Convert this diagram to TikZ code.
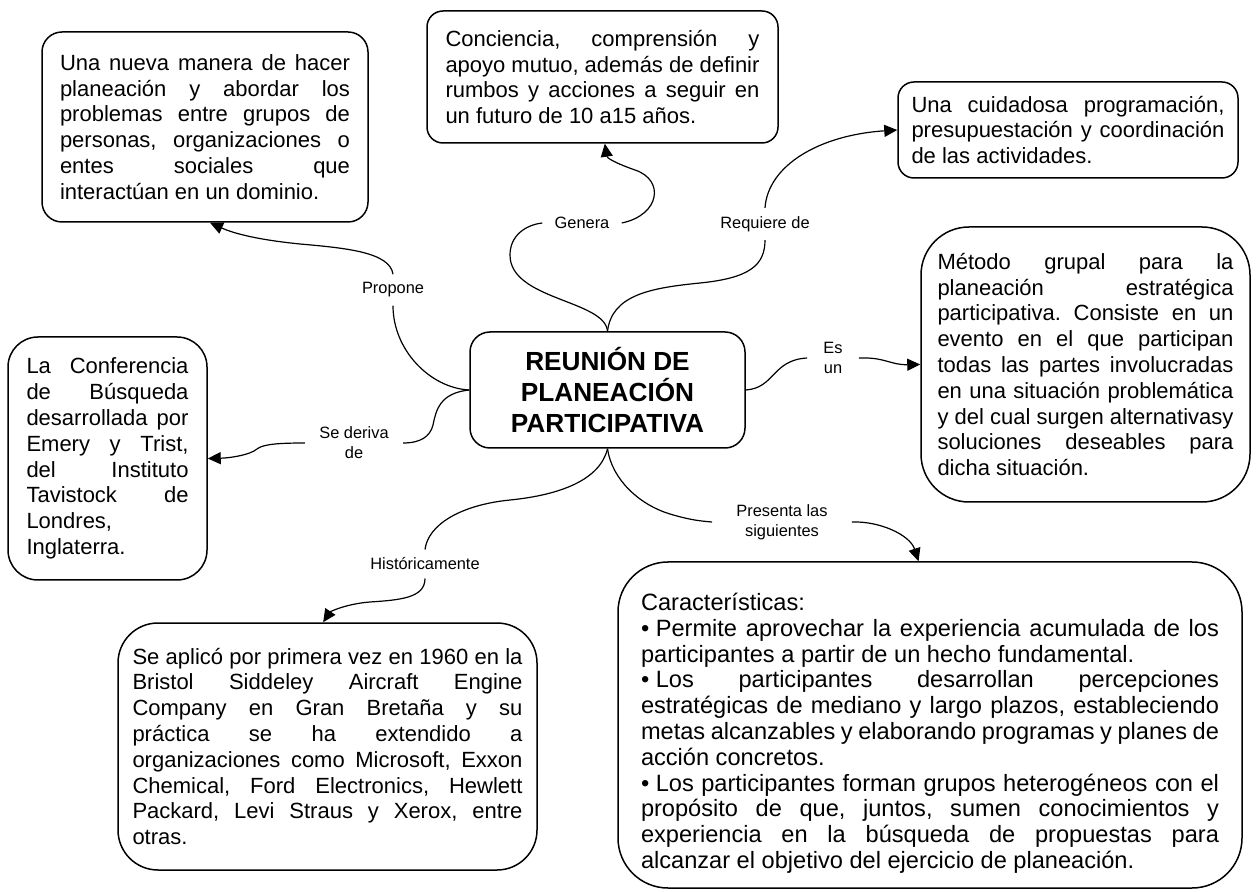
\documentclass[tikz,border=0pt]{standalone}
\usepackage{fontspec}
\setmainfont{Liberation Sans}
\usepackage{tikz}
\usetikzlibrary{arrows.meta}
\setlength{\parindent}{0pt}
\hyphenpenalty=10000
\tolerance=9999
\frenchspacing
\newcommand{\txtfont}{\fontsize{11}{12.9}\selectfont}
\newcommand{\bulfont}{\fontsize{11.8}{12.9}\selectfont}
\newcommand{\lblfont}{\fontsize{8.2}{10}\selectfont}
\newcommand{\ttlfont}{\fontsize{13.1}{15.5}\selectfont\bfseries}

\begin{document}
\begin{tikzpicture}[
  x=0.5pt,y=-0.5pt,
  box/.style={rectangle,draw=black,line width=0.75pt,inner sep=0pt,align=justify,font=\txtfont},
  tag/.style={inner xsep=3pt,inner ysep=4pt,align=center,font=\lblfont},
  link/.style={draw=black,line width=0.6pt},
  arrow/.style={link,-{Triangle[length=6.5pt,width=6pt]}}
]
\useasboundingbox (0,0) rectangle (1258,892);
\node[box,rounded corners=10pt,minimum width=137.5pt,minimum height=58pt,align=center,font=\ttlfont] (reunion) at (607.5,390)
  {REUNIÓN DE\\PLANEACIÓN\\PARTICIPATIVA};
\node[box,rounded corners=10pt,minimum width=163pt,minimum height=95pt,text width=145pt] (nueva) at (205,127)
  {Una nueva manera de hacer\linebreak planeación y abordar los\linebreak problemas entre grupos de\linebreak personas, organizaciones o\linebreak entes sociales que\linebreak interactúan en un dominio.};
\node[box,rounded corners=8pt,minimum width=175.5pt,minimum height=66pt,text width=157pt] (conciencia) at (602.5,77)
  {Conciencia, comprensión y\linebreak apoyo mutuo, además de definir\linebreak rumbos y acciones a seguir en\linebreak un futuro de 10 a15 años.};
\node[box,rounded corners=8pt,minimum width=170pt,minimum height=48pt,text width=156.5pt] (cuidadosa) at (1068,130)
  {Una cuidadosa programación,\linebreak presupuestación y coordinación\linebreak de las actividades.};
\node[box,rounded corners=24pt,minimum width=164.5pt,minimum height=137.5pt,text width=148pt] (metodo) at (1085.5,364.5)
  {Método grupal para la\linebreak planeación estratégica\linebreak participativa. Consiste en un\linebreak evento en el que participan\linebreak todas las partes involucradas\linebreak en una situación problemática\linebreak y del cual surgen alternativasy\linebreak soluciones deseables para\linebreak dicha situación.};
\node[box,rounded corners=15pt,minimum width=99.5pt,minimum height=121.5pt,text width=81pt] (conferencia) at (107.5,458.5)
  {La Conferencia\linebreak de Búsqueda\linebreak desarrollada por\linebreak Emery y Trist,\linebreak del Instituto\linebreak Tavistock de\linebreak Londres,\\ Inglaterra.};
\node[box,rounded corners=20pt,minimum width=209.5pt,minimum height=123.5pt,text width=195pt] (aplico) at (327.5,746.5)
  {Se aplicó por primera vez en 1960 en la\linebreak Bristol Siddeley Aircraft Engine\linebreak Company en Gran Bretaña y su\linebreak práctica se ha extendido a\linebreak organizaciones como Microsoft, Exxon\linebreak Chemical, Ford Electronics, Hewlett\linebreak Packard, Levi Straus y Xerox, entre\linebreak otras.};
\node[box,rounded corners=25pt,minimum width=312pt,minimum height=163pt,text width=289pt,font=\bulfont] (caracteristicas) at (930,725)
  {\rule{0pt}{17pt}Características:\\ \mbox{• Permite} aprovechar la experiencia acumulada de los\linebreak participantes a partir de un hecho fundamental.\\ \mbox{• Los} participantes desarrollan percepciones\linebreak estratégicas de mediano y largo plazos, estableciendo\linebreak metas alcanzables y elaborando programas y planes de\linebreak acción concretos.\\ \mbox{• Los} participantes forman grupos heterogéneos con el\linebreak propósito de que, juntos, sumen conocimientos y\linebreak experiencia en la búsqueda de propuestas para\linebreak alcanzar el objetivo del ejercicio de planeación.};
\node[tag] (propone) at (393,290) {Propone};
\node[tag,inner xsep=6pt] (genera) at (582,223) {Genera};
\node[tag] (requiere) at (765,224) {Requiere de};
\node[tag,inner xsep=8pt] (esun) at (833,358) {Es\\un};
\node[tag,inner xsep=7pt] (deriva) at (354,443) {Se deriva\\de};
\node[tag] (historica) at (425,564) {Históricamente};
\node[tag,inner xsep=12pt] (presenta) at (782,522) {Presenta las\\siguientes};
\draw[link] (reunion.west) .. controls (430,388) and (393,350) .. (propone.south);
\draw[arrow] (propone.north) .. controls (390,252) and (345,248) .. (300,244) .. controls (260,240) and (235,234) .. (nueva.273);
\draw[link] (reunion.north) .. controls (605,300) and (510,300) .. (510,255) .. controls (510,236) and (525,225) .. (genera.west);
\draw[arrow] (genera.east) .. controls (660,215) and (665,180) .. (635,170) .. controls (615,163) and (607,158) .. (conciencia.272);
\draw[link] (reunion.north) .. controls (612,295) and (650,288) .. (700,283) .. controls (750,278) and (765,265) .. (requiere.south);
\draw[arrow] (requiere.north) .. controls (768,165) and (820,135) .. (cuidadosa.west);
\draw[link] (reunion.east) .. controls (775,388) and (772,360) .. (esun.west);
\draw[arrow] (esun.east) .. controls (885,357) and (890,365) .. (metodo.west);
\draw[link] (reunion.west) .. controls (440,393) and (436,410) .. (433,425) .. controls (430,437) and (420,443) .. (deriva.east);
\draw[arrow] (deriva.west) .. controls (280,443) and (263,444) .. (257,449) .. controls (250,455) and (230,458) .. (conferencia.east);
\draw[link] (reunion.south) .. controls (600,480) and (560,495) .. (510,500) .. controls (460,505) and (428,525) .. (historica.north);
\draw[arrow] (historica.south) .. controls (425,598) and (400,600) .. (370,602) .. controls (345,604) and (330,612) .. (aplico.92);
\draw[link] (reunion.south) .. controls (612,480) and (640,505) .. (670,514) .. controls (690,520) and (700,521) .. (presenta.west);
\draw[arrow] (presenta.east) .. controls (880,521) and (910,535) .. (caracteristicas.94);
\end{tikzpicture}
\end{document}
